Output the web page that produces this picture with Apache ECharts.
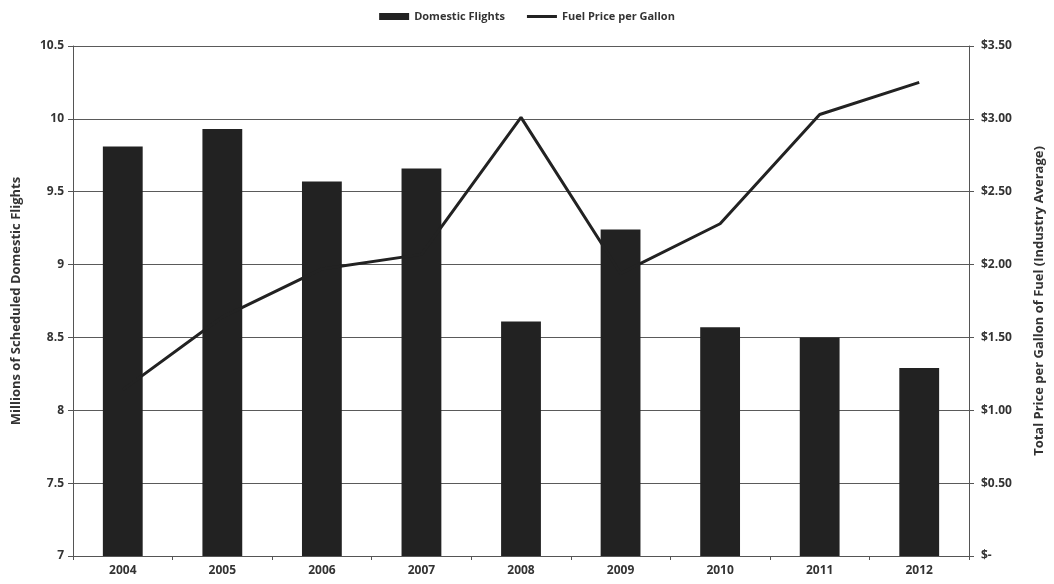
<!DOCTYPE html>
<html>
<head>
<meta charset="utf-8">
<script src="https://cdn.jsdelivr.net/npm/echarts@6/dist/echarts.min.js"></script>
<style>
  html, body { margin: 0; padding: 0; background: #fff; }
  #chart { width: 1054px; height: 584px; }
</style>
</head>
<body>
<div id="chart"></div>
<script>
// Years on the category axis
const years = ['2004', '2005', '2006', '2007', '2008', '2009', '2010', '2011', '2012'];
// Scheduled domestic flights, millions
const domesticFlights = [9.81, 9.93, 9.57, 9.66, 8.61, 9.24, 8.57, 8.50, 8.29];
// Average fuel price, dollars per gallon
const fuelPrice = [1.14, 1.64, 1.97, 2.07, 3.01, 1.94, 2.28, 3.03, 3.25];
// Right axis tick labels (0 shown as "$-")
const priceTicks = ['$-', '$0.50', '$1.00', '$1.50', '$2.00', '$2.50', '$3.00', '$3.50'];

const FONT = '"Open Sans", "Noto Sans", sans-serif';
const INK = '#222';

const chart = echarts.init(document.getElementById('chart'), null, { renderer: 'canvas' });

chart.setOption({
  backgroundColor: '#fff',
  animation: false,
  textStyle: { fontFamily: FONT, color: '#333' },
  legend: {
    top: 6,
    left: 'center',
    itemGap: 22,
    itemWidth: 30,
    itemHeight: 7,
    symbolKeepAspect: true,
    textStyle: { fontSize: 11, fontWeight: 'bold', color: '#333', fontFamily: FONT },
    data: [
      { name: 'Domestic Flights', icon: 'rect' },
      { name: 'Fuel Price per Gallon', icon: 'path://M0,0 L30,0 L30,3 L0,3 Z' }
    ]
  },
  grid: { left: 73, right: 79, top: 46, bottom: 28, containLabel: false },
  xAxis: {
    type: 'category',
    data: years,
    boundaryGap: true,
    axisLine: { lineStyle: { color: '#555', width: 1 } },
    axisTick: { show: true, length: 4, lineStyle: { color: '#555' } },
    axisLabel: { fontSize: 12, fontWeight: 'bold', color: '#333', margin: 9 }
  },
  yAxis: [
    {
      type: 'value',
      min: 7,
      max: 10.5,
      interval: 0.5,
      name: 'Millions of Scheduled Domestic Flights',
      nameLocation: 'middle',
      nameRotate: 90,
      nameGap: 50,
      nameTextStyle: { fontSize: 13, fontWeight: 'bold', color: '#333' },
      axisLine: { show: true, lineStyle: { color: '#555', width: 1 } },
      axisTick: { show: true, length: 5, lineStyle: { color: '#555' } },
      axisLabel: { fontSize: 12, fontWeight: 'bold', color: '#333', margin: 9 },
      splitLine: { show: true, lineStyle: { color: '#5a5a5a', width: 1 } }
    },
    {
      type: 'value',
      min: 0,
      max: 3.5,
      interval: 0.5,
      position: 'right',
      name: 'Total Price per Gallon of Fuel (Industry Average)',
      nameLocation: 'middle',
      nameRotate: 90,
      nameGap: 64,
      nameTextStyle: { fontSize: 13, fontWeight: 'bold', color: '#333' },
      axisLine: { show: true, lineStyle: { color: '#555', width: 1 } },
      axisTick: { show: true, length: 5, lineStyle: { color: '#555' } },
      axisLabel: {
        fontSize: 12, fontWeight: 'bold', color: '#333', margin: 12,
        formatter: (v) => priceTicks[Math.round(v / 0.5)]
      },
      splitLine: { show: false }
    }
  ],
  series: [
    {
      name: 'Domestic Flights',
      type: 'bar',
      yAxisIndex: 0,
      data: domesticFlights,
      barWidth: '40%',
      itemStyle: { color: INK }
    },
    {
      name: 'Fuel Price per Gallon',
      type: 'line',
      yAxisIndex: 1,
      data: fuelPrice,
      symbol: 'none',
      lineStyle: { color: INK, width: 3 },
      itemStyle: { color: INK },
      z: 5
    }
  ]
});
</script>
</body>
</html>
